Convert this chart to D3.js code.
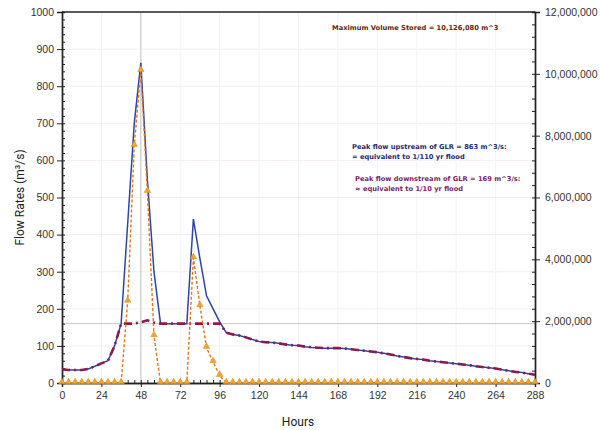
<!DOCTYPE html>
<html>
<head>
<meta charset="utf-8">
<script src="https://cdn.jsdelivr.net/npm/d3@7"></script>
<style>
  body { margin: 0; background: #fff; }
  svg { display: block; font-family: Roboto, "Liberation Sans", sans-serif; }
  .tick text { fill: #333; font-size: 10.5px; }
  .axis path, .axis line { stroke: #222; }
  .note { font-family: "DejaVu Sans", sans-serif; font-weight: bold; font-size: 6.7px; }
</style>
</head>
<body>
<svg width="600" height="430"></svg>
<script>
// hours, every 4 h
var hours = [0,4,8,12,16,20,24,28,32,36,40,44,48,52,56,60,64,68,72,76,80,84,88,92,96,100,
  104,108,112,116,120,124,128,132,136,140,144,148,152,156,160,164,168,172,176,180,184,188,192,
  196,200,204,208,212,216,220,224,228,232,236,240,244,248,252,256,260,264,268,272,276,280,284,288];
// peak flow upstream (m3/s)
var upstream = [37,35,35,35,38,45,53,60,100,160,430,700,863,547,300,160,160,160,160,160,442,335,
  235,200,165,136,131,128,123,117,112,110,109,107,104,102,101,98,96,95,94,94,94,93,91,89,87,85,83,
  80,77,73,70,67,65,63,60,58,56,54,52,50,48,45,43,41,39,36,33,30,28,25,22];
// flow downstream (m3/s)
var downstream = [37,35,35,35,38,45,53,60,100,160,160,160,164,169,163,160,160,160,160,160,160,160,
  160,160,160,136,131,128,123,117,112,110,109,107,104,102,101,98,96,95,94,94,94,93,91,89,87,85,83,
  80,77,73,70,67,65,63,60,58,56,54,52,50,48,45,43,41,39,36,33,30,28,25,22];
// triangle series
var spill = [0,0,0,0,0,0,0,0,0,0,220,640,842,516,127,0,0,0,0,0,337,208,95,57,20,0,
  0,0,0,0,0,0,0,0,0,0,0,0,0,0,0,0,0,0,0,0,0,0,0,0,0,0,0,0,0,0,0,0,0,0,0,0,0,0,0,0,0,0,0,0,0,0,0];
var xTicks = [0,24,48,72,96,120,144,168,192,216,240,264,288];
var yTicks = [0,100,200,300,400,500,600,700,800,900,1000];
var y2Ticks = [0,2000000,4000000,6000000,8000000,10000000,12000000];
var threshold = 160, peakHour = 48;
var notes = [
  {t: "Maximum Volume Stored = 10,126,080 m^3", c: "#5c2a0e", x: 332, y: 30},
  {t: "Peak flow upstream of GLR = 863 m^3/s:", c: "#252b72", x: 352, y: 149},
  {t: "= equivalent to 1/110 yr flood", c: "#252b72", x: 352, y: 159},
  {t: "Peak flow downstream of GLR = 169 m^3/s:", c: "#7b1f66", x: 355, y: 181},
  {t: "\u2248 equivalent to 1/10 yr flood", c: "#7b1f66", x: 355, y: 191}
];

var svg = d3.select("svg");
var margin = {top: 12, right: 65, bottom: 47, left: 62},
  width = 600 - margin.left - margin.right,
  height = 430 - margin.top - margin.bottom;
var g = svg.append("g").attr("transform", "translate(" + margin.left + "," + margin.top + ")");

var x = d3.scaleLinear().domain([0, 288]).range([0, width]);
var y = d3.scaleLinear().domain([0, 1000]).range([height, 0]);
var y2 = d3.scaleLinear().domain([0, 12000000]).range([height, 0]);

// faint grid
g.append("g").selectAll("line").data(yTicks.slice(1, -1)).enter().append("line")
  .attr("x1", 0).attr("x2", width).attr("y1", y).attr("y2", y)
  .attr("stroke", "#f4eeee");
g.append("g").selectAll("line").data(xTicks.slice(1, -1)).enter().append("line")
  .attr("y1", 0).attr("y2", height).attr("x1", x).attr("x2", x)
  .attr("stroke", "#f3f3f3");
// reference lines
g.append("line").attr("x1", 0).attr("x2", width).attr("y1", y(threshold)).attr("y2", y(threshold))
  .attr("stroke", "#c8c8c8");
g.append("line").attr("x1", x(peakHour)).attr("x2", x(peakHour)).attr("y1", 0).attr("y2", height)
  .attr("stroke", "#c4c4c4");

// axes
var minorY = d3.range(0, 1001, 20), minorX = d3.range(0, 289, 4), minorY2 = d3.range(0, 12000001, 400000);
g.append("g").attr("class", "axis")
  .call(d3.axisLeft(y).tickValues(yTicks).tickSize(5).tickPadding(3).tickFormat(d3.format("d")));
g.append("g").attr("class", "axis")
  .call(d3.axisRight(y).tickValues(minorY).tickSize(3).tickFormat(""));
g.append("g").attr("class", "axis").attr("transform", "translate(0," + height + ")")
  .call(d3.axisBottom(x).tickValues(xTicks).tickSize(4).tickPadding(5));
g.append("g").attr("class", "axis").attr("transform", "translate(0," + height + ")")
  .call(d3.axisTop(x).tickValues(minorX).tickSize(3).tickFormat(""));
g.append("g").attr("class", "axis").attr("transform", "translate(" + width + ",0)")
  .call(d3.axisRight(y2).tickValues(y2Ticks).tickSize(5).tickPadding(5).tickFormat(d3.format(",")));
g.append("g").attr("class", "axis").attr("transform", "translate(" + width + ",0)")
  .call(d3.axisLeft(y2).tickValues(minorY2).tickSize(3).tickFormat(""));
g.selectAll(".axis path").attr("stroke-width", 1.4);
g.append("line").attr("x1", 0).attr("x2", width).attr("y1", 0).attr("y2", 0)
  .attr("stroke", "#222").attr("stroke-width", 1.4);

var line = function (vals) {
  return d3.line().x(function (d, i) { return x(hours[i]); }).y(function (d) { return y(d); })(vals);
};
g.append("path").attr("d", line(upstream)).attr("fill", "none")
  .attr("stroke", "#2b45a8").attr("stroke-width", 1.5);
g.append("path").attr("d", line(downstream)).attr("fill", "none")
  .attr("stroke", "#8c1a4b").attr("stroke-width", 2.6).attr("stroke-dasharray", "8,4,2,4");
g.append("path").attr("d", line(spill)).attr("fill", "none")
  .attr("stroke", "#e3741c").attr("stroke-width", 1.4).attr("stroke-dasharray", "3,2");
g.selectAll(".tri").data(spill).enter().append("path")
  .attr("class", "tri")
  .attr("transform", function (d, i) { return "translate(" + x(hours[i]) + "," + (y(d) - 1) + ")"; })
  .attr("d", d3.symbol().type(d3.symbolTriangle).size(18))
  .attr("fill", "#f2a52a").attr("stroke", "#d98a12").attr("stroke-width", 0.5);

// titles
svg.append("text").attr("x", 298).attr("y", 426).attr("text-anchor", "middle")
  .attr("font-size", 12).attr("fill", "#222").text("Hours");
svg.append("text").attr("transform", "translate(24," + (margin.top + height / 2) + ") rotate(-90)")
  .attr("text-anchor", "middle").attr("font-size", 12).attr("fill", "#222").text("Flow Rates (m\u00b3/s)");

svg.selectAll(".note").data(notes).enter().append("text")
  .attr("class", "note").attr("x", function (d) { return d.x; }).attr("y", function (d) { return d.y; })
  .attr("fill", function (d) { return d.c; }).text(function (d) { return d.t; });
</script>
</body>
</html>
